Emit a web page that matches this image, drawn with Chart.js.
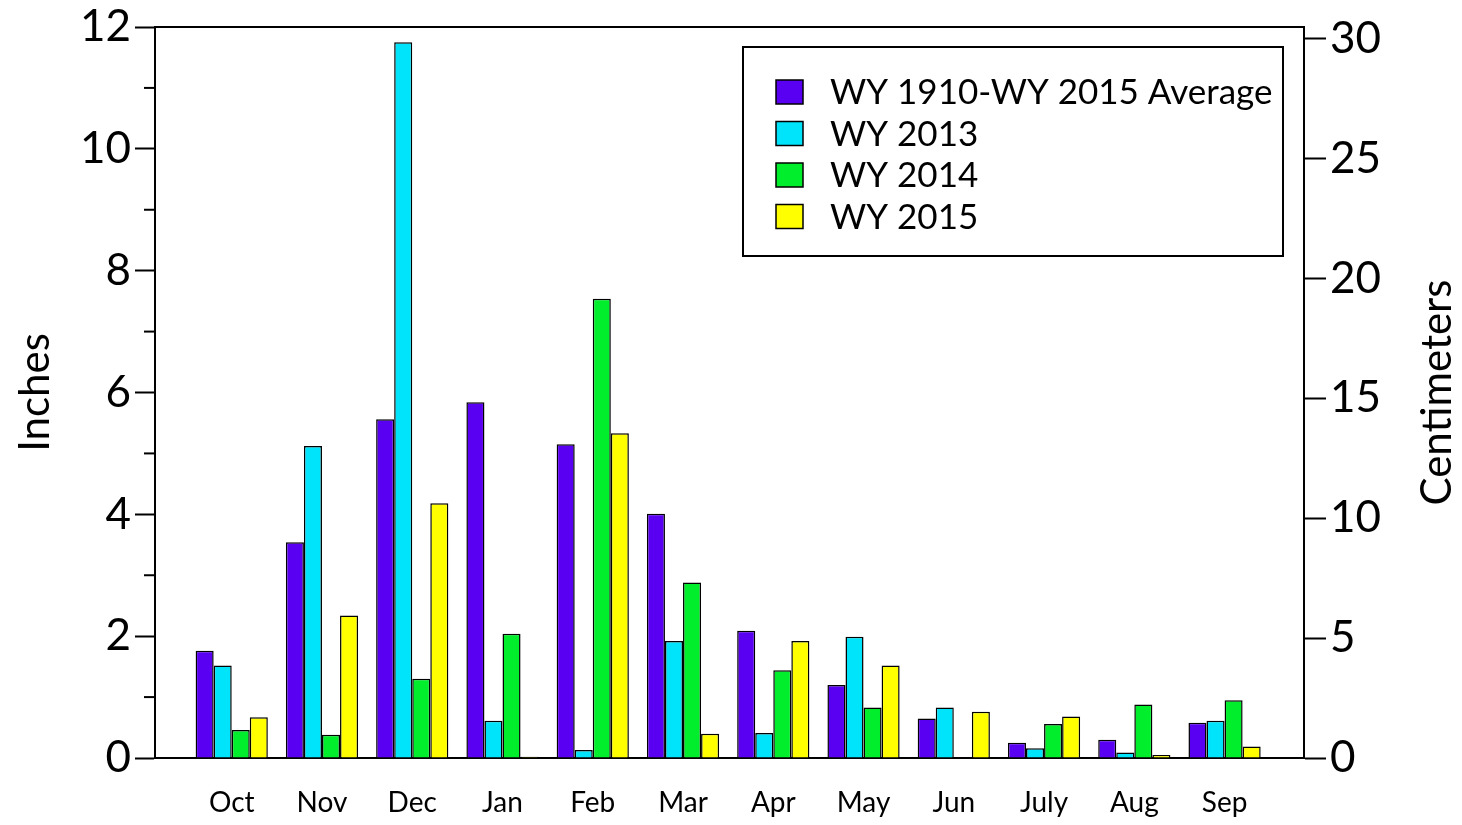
<!DOCTYPE html>
<html>
<head>
<meta charset="utf-8">
<script src="https://cdn.jsdelivr.net/npm/chart.js@4"></script>
<style>
  body { margin: 0; background: #fff; }
  #wrap { width: 1462px; height: 825px; }
</style>
</head>
<body>
<div id="wrap"><canvas id="precip"></canvas></div>
<script>
/* monthly precipitation, inches */
var months = ['Oct', 'Nov', 'Dec', 'Jan', 'Feb', 'Mar', 'Apr', 'May', 'Jun', 'July', 'Aug', 'Sep'];
var wyAverage = [1.76, 3.54, 5.56, 5.84, 5.15, 4.01, 2.09, 1.20, 0.65, 0.25, 0.30, 0.58];
var wy2013 = [1.52, 5.12, 11.75, 0.61, 0.13, 1.92, 0.41, 1.99, 0.83, 0.16, 0.09, 0.61];
var wy2014 = [0.46, 0.38, 1.30, 2.04, 7.54, 2.88, 1.44, 0.83, 0, 0.56, 0.88, 0.95];
var wy2015 = [0.67, 2.34, 4.18, 0.02, 5.33, 0.40, 1.92, 1.52, 0.76, 0.68, 0.05, 0.19];
var seriesNames = ['WY 1910-WY 2015 Average', 'WY 2013', 'WY 2014', 'WY 2015'];
var inchTicks = [0, 2, 4, 6, 8, 10, 12];
var cmTicks = [0, 5, 10, 15, 20, 25, 30];

var FONT = 'Lato';
var colors = ['#5a00f2', '#00e4fb', '#00ee2c', '#ffff00'];

function toPoints(arr) {
    return arr.map(function (v, i) { return { x: i + 1, y: v }; });
}

function setTicks(list) {
    return function (scale) {
        scale.ticks = list.map(function (v) { return { value: v }; });
    };
}

// frame on top, minor ticks on the inch axis, right title, legend box
var extras = {
    id: 'extras',
    afterDraw: function (chart) {
        var ctx = chart.ctx, a = chart.chartArea;
        var yl = chart.scales.y;
        ctx.save();
        ctx.strokeStyle = '#000';
        ctx.lineWidth = 2;
        ctx.beginPath();
        ctx.moveTo(a.left, a.top);
        ctx.lineTo(a.right, a.top);
        ctx.stroke();

        // minor ticks
        for (var i = 0; i < inchTicks.length - 1; i++) {
            var py = yl.getPixelForValue((inchTicks[i] + inchTicks[i + 1]) / 2);
            ctx.beginPath();
            ctx.moveTo(a.left - 11, py);
            ctx.lineTo(a.left, py);
            ctx.stroke();
        }

        // right title, reads bottom to top
        ctx.fillStyle = '#000';
        ctx.font = '42px ' + FONT;
        ctx.textAlign = 'center';
        ctx.textBaseline = 'middle';
        ctx.translate(1437, (a.top + a.bottom) / 2);
        ctx.rotate(-Math.PI / 2);
        ctx.fillText('Centimeters', 0, 0);
        ctx.restore();

        // legend
        ctx.save();
        var bx = a.right - 561, by = a.top + 20, bw = 540, bh = 209;
        ctx.fillStyle = '#fff';
        ctx.fillRect(bx, by, bw, bh);
        ctx.strokeStyle = '#000';
        ctx.lineWidth = 2;
        ctx.strokeRect(bx, by, bw, bh);
        ctx.font = '35px ' + FONT;
        ctx.textBaseline = 'middle';
        chart.data.datasets.forEach(function (ds, k) {
            var cy = by + 45 + k * 41.5;
            ctx.fillStyle = ds.backgroundColor;
            ctx.fillRect(bx + 33, cy - 12, 27, 24);
            ctx.lineWidth = 1.5;
            ctx.strokeRect(bx + 33, cy - 12, 27, 24);
            ctx.fillStyle = '#000';
            ctx.fillText(ds.label, bx + 87, cy + 1);
        });
        ctx.restore();
    }
};

var ctx = document.getElementById('precip').getContext('2d');
var precip = new Chart(ctx, {
    type: 'bar',
    data: {
        datasets: [wyAverage, wy2013, wy2014, wy2015].map(function (arr, k) {
            return {
                label: seriesNames[k],
                data: toPoints(arr),
                backgroundColor: colors[k],
                borderColor: '#000',
                borderWidth: 1.5,
                categoryPercentage: 0.8,
                barPercentage: 1.0
            };
        })
    },
    options: {
        responsive: true,
        maintainAspectRatio: false,
        animation: false,
        layout: { padding: { top: 27, left: 0, right: 0, bottom: 0 } },
        plugins: {
            legend: { display: false },
            tooltip: { enabled: false }
        },
        scales: {
            x: {
                type: 'linear',
                offset: false,
                min: 0.15,
                max: 12.88,
                afterBuildTicks: setTicks(months.map(function (m, i) { return i + 1; })),
                afterFit: function (s) { s.height = 67; s.paddingLeft = 0; s.paddingRight = 0; },
                grid: { display: false, drawTicks: false },
                border: { display: true, color: '#000', width: 2 },
                ticks: {
                    autoSkip: false,
                    maxRotation: 0,
                    padding: 28,
                    color: '#000',
                    font: { family: FONT, size: 28 },
                    callback: function (v) { return months[v - 1]; }
                }
            },
            y: {
                position: 'left',
                min: 0,
                max: 12,
                afterBuildTicks: setTicks(inchTicks),
                afterFit: function (s) { s.width = 155; s.paddingTop = 0; s.paddingBottom = 0; },
                grid: { drawOnChartArea: false, drawTicks: true, tickLength: 20, tickColor: '#000', tickWidth: 2 },
                border: { display: true, color: '#000', width: 2 },
                ticks: { padding: 4, color: '#000', font: { family: FONT, size: 44 } },
                title: { display: true, text: 'Inches', color: '#000', font: { family: FONT, size: 42 }, padding: { top: 10, bottom: 0 } }
            },
            y2: {
                position: 'right',
                min: 0,
                max: 12 * 2.54,
                afterBuildTicks: setTicks(cmTicks),
                afterFit: function (s) { s.width = 158; s.paddingTop = 0; s.paddingBottom = 0; },
                grid: { drawOnChartArea: false, drawTicks: true, tickLength: 22, tickColor: '#000', tickWidth: 2 },
                border: { display: true, color: '#000', width: 2 },
                ticks: { padding: 4, color: '#000', font: { family: FONT, size: 44 } }
            }
        }
    },
    plugins: [extras]
});
</script>
</body>
</html>
